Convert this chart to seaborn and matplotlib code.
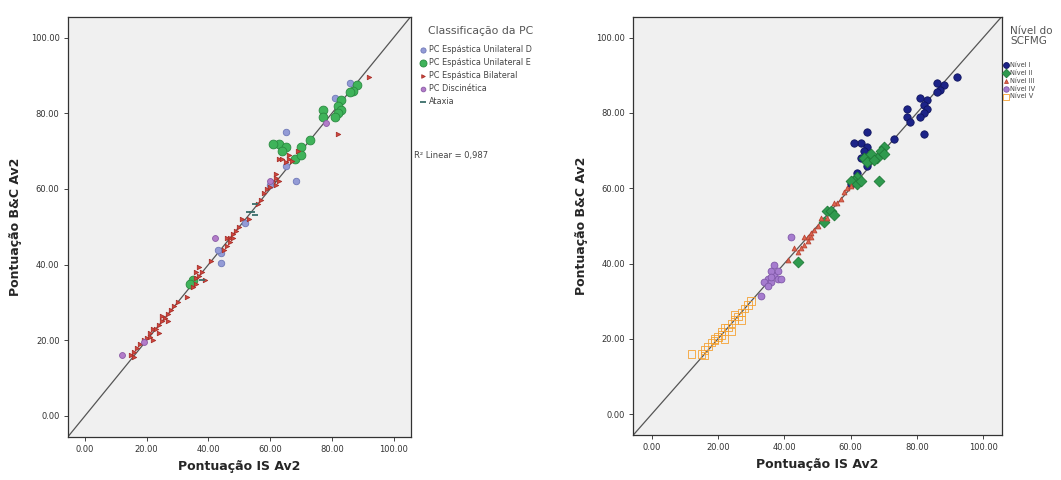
import pandas as pd
import seaborn as sns
import matplotlib.pyplot as plt

# ==================================================
# dados
# ==================================================

is_av2 = [
    92, 88, 86, 87, 86, 83, 82, 81, 83, 82, 81, 77, 77, 78, 82, 73, 65, 63, 61, 65, 64, 63, 65, 60, 62,
    70, 69, 68, 70, 66, 64, 65, 62, 61, 60, 62, 63, 68.5, 53, 54, 52, 55, 44, 66, 67,
    46, 47, 48, 45, 49, 50, 47, 44, 51, 53, 56, 57, 58, 59, 41, 43, 46, 48, 55, 60,
    35, 36, 37, 36, 37, 38, 34, 35, 39, 33, 42, 36, 38,
    12, 15, 16, 17, 18, 19, 20, 21, 21, 22, 23, 24, 25, 26, 27, 28, 29, 30, 22, 24, 19, 16, 25, 27,
]
bc_av2 = [
    89.5, 87.5, 88, 86, 85.5, 83.5, 82, 84, 81, 80, 79, 81, 79, 77.5, 74.5, 73, 75, 72, 72, 71, 70, 68, 66, 61, 64,
    71, 70, 68, 69, 68, 68, 67, 63, 62, 62, 61, 62, 62, 54, 54, 51, 53, 40.5, 69, 67.5,
    45, 47, 48, 44, 49, 50, 46, 43, 52, 52, 56, 57, 59, 60, 41, 44, 47, 47, 56, 60.5,
    36, 35, 37, 38, 39.5, 36, 35, 34, 36, 31.5, 47, 36.5, 38,
    16, 16, 17, 18, 19, 20, 20.5, 21, 22, 23, 23, 24, 25, 26, 27, 28, 29, 30, 20, 22, 19.5, 15.5, 26.5, 25,
]
classe_pc = (
    ["B", "E", "D", "E", "E", "E", "E", "D", "E", "E", "E", "E", "E", "Dis", "B", "E", "D", "E", "E", "E", "E", "B", "D", "D", "B"]
    + ["E", "B", "E", "E", "B", "B", "B", "B", "B", "Dis", "B", "B", "D", "At", "At", "D", "At", "D", "B", "B"]
    + ["B", "B", "B", "B", "B", "B", "B", "D", "B", "B", "B", "B", "B", "B", "B", "D", "B", "B", "At", "B"]
    + ["E", "B", "B", "B", "B", "At", "E", "B", "B", "B", "Dis", "B", "B"]
    + ["Dis"] + ["B"] * 19 + ["Dis", "B", "B", "B"]
)
nivel = ["I"] * 25 + ["II"] * 20 + ["III"] * 20 + ["IV"] * 13 + ["V"] * 24

pc_labels = {
    "D": "PC Espástica Unilateral D",
    "E": "PC Espástica Unilateral E",
    "B": "PC Espástica Bilateral",
    "Dis": "PC Discinética",
    "At": "Ataxia",
}

df = pd.DataFrame({"IS": is_av2, "BC": bc_av2, "pc": classe_pc, "nivel": nivel})
df["pc_label"] = df["pc"].map(pc_labels)
df["nivel_label"] = "Nível " + df["nivel"]

# ==================================================
# estilo
# ==================================================

sns.set_theme(style="white")
plt.rcParams["font.family"] = ["DejaVu Sans"]

pc_style = {
    "PC Espástica Unilateral D": dict(color="#939bd6", edgecolor="#6f78b8", marker="o", s=22),
    "PC Espástica Unilateral E": dict(color="#3fb35a", edgecolor="#2a8a40", marker="o", s=40),
    "PC Espástica Bilateral": dict(color="#d2453c", edgecolor="#a8302a", marker=">", s=10),
    "PC Discinética": dict(color="#b27cc9", edgecolor="#8a5aa5", marker="o", s=18),
    "Ataxia": dict(color="#3a6e6a", marker="_", s=22),
}
nivel_style = {
    "Nível I": dict(color="#1c2388", edgecolor="#10155e", marker="o", s=28),
    "Nível II": dict(color="#2f9a4e", edgecolor="#1f7a38", marker="D", s=30),
    "Nível III": dict(color="#e0654f", edgecolor="#b84535", marker="^", s=12),
    "Nível IV": dict(color="#a67ccf", edgecolor="#7f58a8", marker="o", s=24),
    "Nível V": dict(color="none", edgecolor="#f5a233", marker="s", s=28),
}

W, H = 1061, 480
fig = plt.figure(figsize=(10.61, 4.8), dpi=100)
ax1 = fig.add_axes([0.064, 0.090, 0.323, 0.875])
ax2 = fig.add_axes([0.597, 0.094, 0.347, 0.871])


def draw_panel(ax, group_col, styles, leg_x, leg_y, fs, spacing):
    ax.set_facecolor("#f0f0f0")
    ax.plot([-5.5, 105.5], [-5.5, 105.5], color="#555555", lw=0.9, zorder=1)
    for name, st in styles.items():
        sub = df[df[group_col] == name]
        if st["marker"] == "_":
            sns.scatterplot(data=sub, x="IS", y="BC", ax=ax, marker="_",
                            color=st["color"], s=st["s"], linewidth=1.3,
                            label=name, zorder=3)
        else:
            sns.scatterplot(data=sub, x="IS", y="BC", ax=ax, marker=st["marker"],
                            facecolor=st["color"], edgecolor=st["edgecolor"],
                            s=st["s"], linewidth=0.6, label=name, zorder=3)
    ax.set_xlim(-5.5, 105.5)
    ax.set_ylim(-5.5, 105.5)
    ticks = [0, 20, 40, 60, 80, 100]
    ax.set_xticks(ticks)
    ax.set_yticks(ticks)
    ax.set_xticklabels([f"{t:.2f}" for t in ticks], fontsize=6, color="#333333")
    ax.set_yticklabels([f"{t:.2f}" for t in ticks], fontsize=6, color="#333333")
    ax.tick_params(axis="both", direction="out", length=3, width=0.6, pad=3,
                   bottom=True, left=True)
    for sp in ax.spines.values():
        sp.set_color("#333333")
        sp.set_linewidth(0.9)
    ax.set_xlabel("Pontuação IS Av2", fontsize=9, fontweight="bold", labelpad=4)
    ax.set_ylabel("Pontuação B&C Av2", fontsize=9, fontweight="bold", labelpad=6)
    leg = ax.legend(loc="upper left", bbox_to_anchor=(leg_x / W, 1 - leg_y / H),
                    bbox_transform=fig.transFigure, frameon=False,
                    fontsize=fs, handletextpad=0.3, labelspacing=spacing,
                    borderaxespad=0, borderpad=0,
                    handlelength=0.8, markerscale=0.8)
    for t in leg.get_texts():
        t.set_color("#444444")


draw_panel(ax1, "pc_label", pc_style, 420, 45, 5.9, 0.5)
draw_panel(ax2, "nivel_label", nivel_style, 1003, 62, 4.8, 0.28)

fig.text(428 / W, 1 - 31 / H, "Classificação da PC", fontsize=7.8, color="#555555",
         va="center", ha="left")
fig.text(1010 / W, 1 - 36 / H, "Nível do\nSCFMG", fontsize=7.5, color="#555555",
         va="center", ha="left", linespacing=1.0)
fig.text(0.390, 1 - 155 / H, "R² Linear = 0,987", fontsize=6, color="#444444",
         va="center", ha="left")

fig.savefig("out.png", dpi=100, facecolor="white")
plt.close(fig)
